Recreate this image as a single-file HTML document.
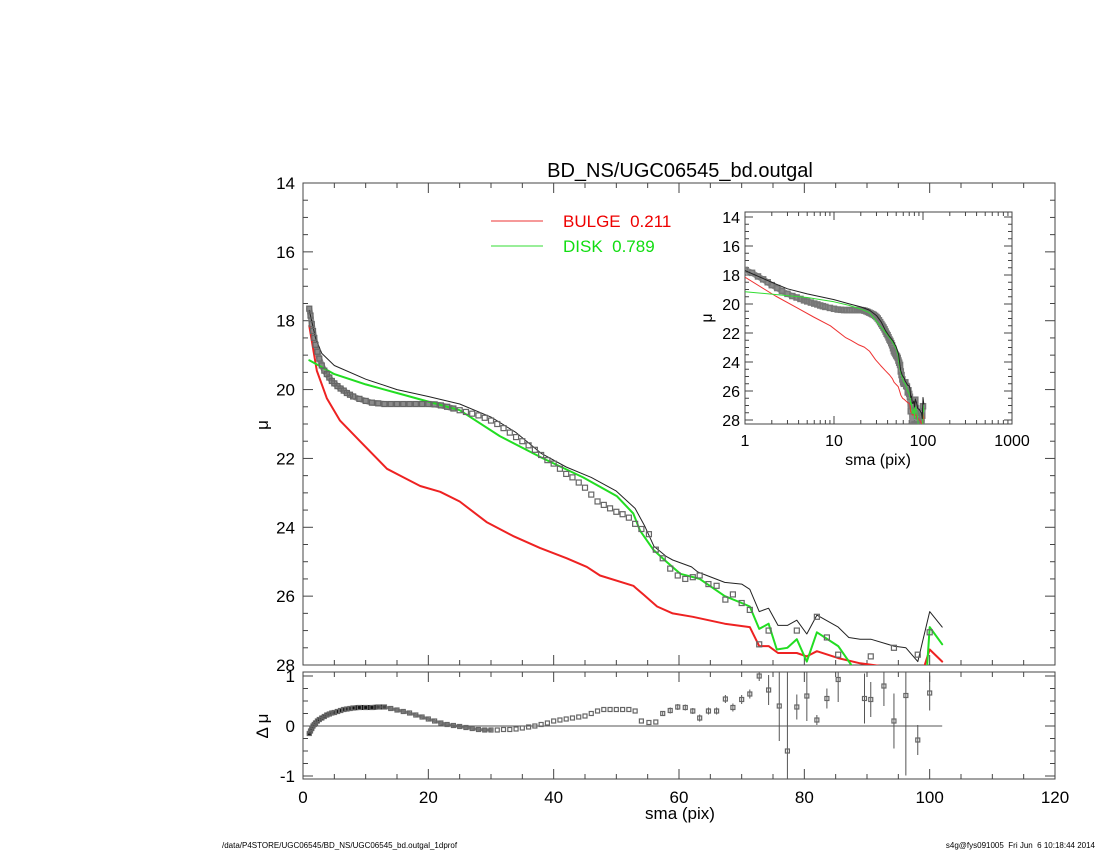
<!DOCTYPE html>
<html><head><meta charset="utf-8"><style>
body{margin:0;background:#fff;width:1100px;height:850px;overflow:hidden;font-family:"Liberation Sans",sans-serif}
svg{display:block}
</style></head><body>
<svg id="chart" width="1100" height="850" viewBox="0 0 1100 850" xmlns="http://www.w3.org/2000/svg">
<defs>
<clipPath id="cMain"><rect x="303" y="183" width="752" height="482"/></clipPath>
<clipPath id="cRes"><rect x="303" y="672" width="752" height="107"/></clipPath>
<clipPath id="cIns"><rect x="745" y="212" width="267" height="212"/></clipPath>
</defs>
<text x="680" y="177" font-size="20" text-anchor="middle">BD_NS/UGC06545_bd.outgal</text>
<g id="main"></g>
<g id="res"></g>
<g id="ins"></g>
<g>
<line x1="491" y1="221" x2="543" y2="221" stroke="#e33" stroke-width="1"/>
<text x="563" y="227" font-size="17" fill="#e00" xml:space="preserve">BULGE  0.211</text>
<line x1="491" y1="246" x2="543" y2="246" stroke="#3d3" stroke-width="1"/>
<text x="563" y="252" font-size="17" fill="#1d1" xml:space="preserve">DISK  0.789</text>
</g>
<text x="268" y="425" font-size="17" text-anchor="middle" transform="rotate(-90 268 425)">μ</text>
<text x="268" y="726" font-size="17" text-anchor="middle" transform="rotate(-90 268 726)">Δ μ</text>
<text x="680" y="819" font-size="17" text-anchor="middle">sma (pix)</text>
<text x="222" y="848" font-size="8">/data/P4STORE/UGC06545/BD_NS/UGC06545_bd.outgal_1dprof</text>
<text x="1095" y="848" font-size="8" text-anchor="end" xml:space="preserve">s4g@fys091005  Fri Jun  6 10:18:44 2014</text>
</svg>
<script>
const dataSma=[1,1.2,1.4,1.6,1.8,2,2.3,2.6,3,3.4,3.8,4.2,4.6,5,5.5,6,6.5,7,7.5,8,9,10,11,12,13,14,15,16,17,18,19,20,21,22,23,24,25,26,27,28,29,30,31,32,33,34,35,36,37,38,39,40,41,42,43,44,45,46,47,48,49,50,51,52,53,54,55.2,56.3,57.4,58.6,59.8,61,62.2,63.3,64.7,66,67.4,68.6,70,71.3,72.8,74.3,76,77.3,78.8,80.4,82,83.6,85.4,89.6,90.6,92.7,94.3,96.2,98.1,100];
const dataMu=[17.65,17.85,18.1,18.3,18.5,18.7,18.9,19.1,19.3,19.45,19.55,19.65,19.75,19.82,19.9,19.97,20.03,20.1,20.15,20.2,20.27,20.33,20.38,20.4,20.42,20.42,20.42,20.42,20.42,20.42,20.42,20.42,20.43,20.46,20.5,20.55,20.6,20.65,20.7,20.75,20.82,20.9,21.0,21.12,21.25,21.38,21.5,21.62,21.75,21.9,22.05,22.15,22.3,22.45,22.55,22.7,22.85,23.05,23.25,23.35,23.45,23.55,23.62,23.72,23.9,24.05,24.2,24.65,24.9,25.2,25.4,25.5,25.45,25.4,25.65,25.7,26.1,25.95,26.2,26.4,27.4,27.0,28.4,28.6,27.0,28.3,26.6,27.2,27.7,28.4,27.75,28.3,27.5,28.2,27.7,27.05];
const dataRes=[-0.15,-0.1,-0.05,0,0.03,0.06,0.1,0.13,0.16,0.19,0.22,0.24,0.26,0.27,0.29,0.31,0.33,0.34,0.35,0.36,0.37,0.37,0.37,0.38,0.38,0.35,0.32,0.29,0.26,0.22,0.18,0.14,0.1,0.06,0.03,0.01,-0.01,-0.03,-0.05,-0.07,-0.08,-0.08,-0.08,-0.07,-0.07,-0.06,-0.04,-0.02,0,0.03,0.06,0.1,0.12,0.14,0.16,0.18,0.2,0.25,0.3,0.33,0.33,0.33,0.33,0.33,0.3,0.1,0.07,0.08,0.25,0.31,0.38,0.37,0.3,0.16,0.3,0.3,0.54,0.37,0.53,0.64,1.0,0.72,0.4,-0.5,0.38,0.6,0.12,0.55,0.93,0.55,0.53,0.8,0.1,0.61,-0.28,0.66];
const dataErr=[0.02,0.02,0.02,0.02,0.02,0.02,0.02,0.02,0.02,0.02,0.02,0.02,0.02,0.02,0.02,0.02,0.02,0.02,0.02,0.02,0.02,0.02,0.02,0.02,0.02,0.02,0.02,0.02,0.02,0.02,0.02,0.02,0.02,0.02,0.02,0.02,0.02,0.02,0.02,0.02,0.02,0.02,0.02,0.02,0.02,0.02,0.02,0.02,0.02,0.02,0.02,0.02,0.02,0.02,0.02,0.02,0.02,0.02,0.02,0.02,0.02,0.02,0.02,0.02,0.03,0.03,0.04,0.04,0.05,0.06,0.06,0.06,0.06,0.07,0.07,0.07,0.08,0.08,0.09,0.09,0.1,0.3,0.7,1.6,0.25,0.5,0.1,0.2,0.45,0.5,0.35,0.4,0.55,1.6,0.3,0.35];
const totSma=[1,2,3,5,10,15,20,25,30,34,38,42,46,50,53,54.5,56,58,59,62,63,67.3,70,71.3,72.8,74.3,75.8,77.3,78.8,80.4,82,85.4,87.1,88.9,90.6,94.3,96.2,98.1,100,102];
const totMu=[17.7,18.5,18.95,19.3,19.7,20.0,20.2,20.42,20.8,21.25,21.85,22.25,22.55,22.95,23.45,23.95,24.55,24.85,24.95,25.15,25.3,25.6,25.65,25.8,26.45,26.35,26.85,26.85,26.7,27.1,26.55,26.9,27.2,27.25,27.25,27.45,27.5,27.9,26.45,26.9];
const diskSma=[1,5,10,15,20,25,31.4,38.3,44.7,50.1,52.7,53.8,55.9,58,60.2,63.3,67.3,70,71.3,72.8,74.3,75.6,77.3,78.8,80.4,82,85.4,87.5,89,98,99.6,100,102];
const diskMu=[19.15,19.55,19.85,20.1,20.35,20.6,21.35,22.0,22.55,23.1,23.6,24.1,24.65,25.0,25.35,25.5,26.0,26.2,26.3,26.95,26.8,27.55,27.5,27.25,27.9,27.05,27.45,28.0,28.6,28.6,28.0,26.9,27.4];
const bulgeSma=[1,2.2,3.8,5.9,9.1,13.4,15.5,18.7,21.9,25,29.3,33.5,37.8,42.1,45.3,47.4,52.7,54.3,56.5,59,62.2,67.3,71.3,72.8,74.3,75.8,78.8,80.4,82,85.4,88.9,93,98.5,100,102];
const bulgeMu=[18.15,19.45,20.25,20.9,21.5,22.3,22.5,22.8,22.97,23.25,23.85,24.25,24.6,24.9,25.15,25.4,25.7,25.95,26.3,26.5,26.6,26.8,26.9,27.45,27.45,27.65,27.65,27.75,27.6,27.8,27.95,28.05,28.4,27.55,27.9];
const xTicks=[0,20,40,60,80,100,120];
const yTicks=[14,16,18,20,22,24,26,28];
const resTicks=[1,0,-1];
const insXTicks=[1,10,100,1000];

const NS="http://www.w3.org/2000/svg";
function mk(tag,attrs,parent){const e=document.createElementNS(NS,tag);for(const k in attrs)e.setAttribute(k,attrs[k]);parent.appendChild(e);return e;}
const X=s=>303+s*(752/120);
const Y=m=>183+(m-14)*(482/14);
const RY=r=>726-r*50;
const IX=s=>745+Math.log10(s)*89;
const IY=m=>217+(m-14)*14.5;

const main=document.getElementById('main'),res=document.getElementById('res'),ins=document.getElementById('ins');
function frame(g,x,y,w,h,name){const r=mk('rect',{x:x,y:y,width:w,height:h,fill:'none',stroke:'#444','stroke-width':1},g);

}
frame(main,303,183,752,482,'main-frame');
frame(res,303,672,752,107,'residual-frame');
frame(ins,745,212,267,212,'inset-frame');

for(let v=0;v<=120;v+=5){const maj=v%20===0,L=maj?10:5;
 mk('line',{x1:X(v),y1:665,x2:X(v),y2:665-L,stroke:'#444'},main);
 mk('line',{x1:X(v),y1:183,x2:X(v),y2:183+L,stroke:'#444'},main);
 mk('line',{x1:X(v),y1:779,x2:X(v),y2:779-L,stroke:'#444'},res);
 mk('line',{x1:X(v),y1:672,x2:X(v),y2:672+L,stroke:'#444'},res);}
for(let v=14;v<=28.001;v+=0.5){const maj=Math.abs(v-Math.round(v/2)*2)<1e-6,L=maj?10:5;
 mk('line',{x1:303,y1:Y(v),x2:303+L,y2:Y(v),stroke:'#444'},main);
 mk('line',{x1:1055,y1:Y(v),x2:1055-L,y2:Y(v),stroke:'#444'},main);}
xTicks.forEach(v=>{const t=mk('text',{x:X(v),y:803,'font-size':17,'text-anchor':'middle'},res);t.textContent=v;
 
 });
yTicks.forEach(v=>{const t=mk('text',{x:295,y:Y(v)+6,'font-size':17,'text-anchor':'end'},main);t.textContent=v;
 
 });
for(let v=-1;v<=1.001;v+=0.25){const maj=Math.abs(v-Math.round(v))<1e-6,L=maj?10:5;
 mk('line',{x1:303,y1:RY(v),x2:303+L,y2:RY(v),stroke:'#444'},res);
 mk('line',{x1:1055,y1:RY(v),x2:1055-L,y2:RY(v),stroke:'#444'},res);}
resTicks.forEach(v=>{const t=mk('text',{x:295,y:RY(v)+6,'font-size':17,'text-anchor':'end'},res);t.textContent=v;
 
 });

function poly(g,xs,ys,fx,fy,color,w,clip,name,op){const pts=xs.map((s,i)=>fx(s).toFixed(1)+','+fy(ys[i]).toFixed(1)).join(' ');
 const p=mk('polyline',{points:pts,fill:'none',stroke:color,'stroke-width':w,'clip-path':'url(#'+clip+')','stroke-linejoin':'round','stroke-linecap':'round','stroke-opacity':op||1},g);
 
 }
// dense data band (early radii)
const bandIdx=dataSma.map((s,i)=>i).filter(i=>dataSma[i]<=24);
poly(main,bandIdx.map(i=>dataSma[i]),bandIdx.map(i=>dataMu[i]),X,Y,'#777',6,'cMain','data-band',0.85);
poly(main,bulgeSma,bulgeMu,X,Y,'#e22',2,'cMain','bulge-line');
poly(main,totSma,totMu,X,Y,'#222',1,'cMain','total-model-line');
poly(main,diskSma,diskMu,X,Y,'#2d2',2,'cMain','disk-line');
const gd=mk('g',{'clip-path':'url(#cMain)'},main);


dataSma.forEach((s,i)=>{const r=mk('rect',{x:X(s)-2.5,y:Y(dataMu[i])-2.5,width:5,height:5,fill:'none',stroke:'#666','stroke-width':1.2},gd);
 
 });
// residual
const zl=mk('line',{x1:X(0),y1:RY(0),x2:X(102),y2:RY(0),stroke:'#555'},res);


const rIdx=dataSma.map((s,i)=>i).filter(i=>dataSma[i]<=13);
poly(res,rIdx.map(i=>dataSma[i]),rIdx.map(i=>dataRes[i]),X,RY,'#111',5,'cRes','residual-band');
const rIdx2=dataSma.map((s,i)=>i).filter(i=>dataSma[i]>=12&&dataSma[i]<=30);
poly(res,rIdx2.map(i=>dataSma[i]),rIdx2.map(i=>dataRes[i]),X,RY,'#555',3,'cRes','residual-band-2',0.8);
const gr=mk('g',{'clip-path':'url(#cRes)'},res);


dataSma.forEach((s,i)=>{const r=dataRes[i],e=dataErr[i];
 if(e>0.04){const l=mk('line',{x1:X(s),y1:RY(r+e),x2:X(s),y2:RY(r-e),stroke:'#555'},gr);
  
  }
 const q=mk('rect',{x:X(s)-2,y:RY(r)-2,width:4,height:4,fill:'none',stroke:'#666','stroke-width':1.2},gr);
 
 });
// inset
for(let d=0;d<3;d++)for(let k=1;k<=10;k++){const s=Math.pow(10,d)*k,L=(k===1||k===10)?8:4;
 mk('line',{x1:IX(s),y1:424,x2:IX(s),y2:424-L,stroke:'#444'},ins);
 mk('line',{x1:IX(s),y1:212,x2:IX(s),y2:212+L,stroke:'#444'},ins);}
for(let v=14;v<=28.001;v+=0.5){const maj=Math.abs(v-Math.round(v/2)*2)<1e-6,L=maj?8:4;
 mk('line',{x1:745,y1:IY(v),x2:745+L,y2:IY(v),stroke:'#444'},ins);
 mk('line',{x1:1012,y1:IY(v),x2:1012-L,y2:IY(v),stroke:'#444'},ins);}
insXTicks.forEach(v=>{const t=mk('text',{x:IX(v),y:446,'font-size':16,'text-anchor':'middle'},ins);t.textContent=v;
 
 });
yTicks.forEach(v=>{const t=mk('text',{x:740,y:IY(v)+6,'font-size':16,'text-anchor':'end'},ins);t.textContent=v;
 
 });
const ixl=mk('text',{x:878,y:465,'font-size':16,'text-anchor':'middle'},ins);ixl.textContent='sma (pix)';


const iyl=mk('text',{x:712,y:318,'font-size':16,'text-anchor':'middle',transform:'rotate(-90 712 318)'},ins);iyl.textContent='μ';


poly(ins,dataSma,dataMu,IX,IY,'#777',6,'cIns','inset-data-band',0.85);
const gi=mk('g',{'clip-path':'url(#cIns)'},ins);


dataSma.forEach((s,i)=>{const r=mk('rect',{x:IX(s)-2.5,y:IY(dataMu[i])-2.5,width:5,height:5,fill:'none',stroke:'#777','stroke-width':1.5},gi);
 
 });
poly(ins,bulgeSma,bulgeMu,IX,IY,'#e33',1,'cIns','inset-bulge-line');
poly(ins,diskSma,diskMu,IX,IY,'#3d3',1,'cIns','inset-disk-line');
poly(ins,totSma,totMu,IX,IY,'#222',1,'cIns','inset-total-line');
</script>
</body></html>
